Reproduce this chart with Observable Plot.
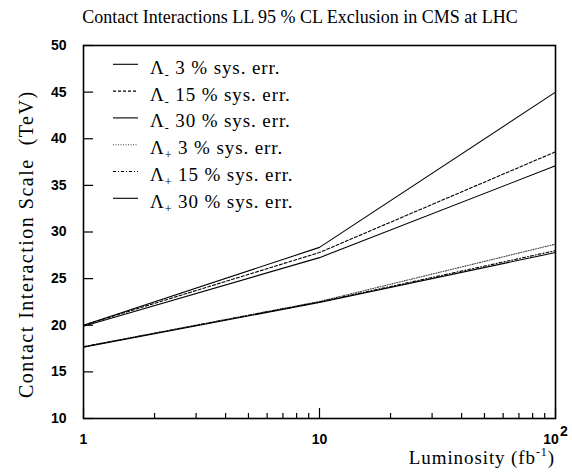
<!DOCTYPE html>
<html><head><meta charset="utf-8">
<script src="https://cdn.jsdelivr.net/npm/d3@7"></script>
<script src="https://cdn.jsdelivr.net/npm/@observablehq/plot@0.6"></script>
<style>body{margin:0;background:#fff}</style>
</head><body><div id="chart"></div>
<script>
// ---- data ----
const luminosity = [1, 10, 100];
const lamMinus3  = [20.0, 28.35, 45.0];
const lamMinus15 = [20.0, 27.8, 38.6];
const lamMinus30 = [19.9, 27.25, 37.1];
const lamPlus3   = [17.7, 22.55, 28.7];
const lamPlus15  = [17.7, 22.5, 28.0];
const lamPlus30  = [17.65, 22.45, 27.8];
const seriesValues = [lamMinus3, lamMinus15, lamMinus30, lamPlus3, lamPlus15, lamPlus30];
const legendSub  = ["-", "-", "-", "+", "+", "+"];
const legendRest = [" 3 % sys. err.", " 15 % sys. err.", " 30 % sys. err.", " 3 % sys. err.", " 15 % sys. err.", " 30 % sys. err."];
const xTicksMajor = [1, 10, 100];
const xTicksMinor = [2, 3, 4, 5, 6, 7, 8, 9, 20, 30, 40, 50, 60, 70, 80, 90];
const yTicks = [10, 15, 20, 25, 30, 35, 40, 45, 50];
const titleText = "Contact Interactions LL 95 % CL Exclusion in CMS at LHC";
const yTitleText = "Contact Interaction Scale  (TeV)";
const xTitleMain = "Luminosity (fb";
const xTitleSup = "-1";

// ---- styles ----
const dashes = [null, "3,2", null, "1,1.5", "3,2,1,2", null];
const strokes = ["#000", "#000", "#000", "#444", "#000", "#000"];

const table = [];
seriesValues.forEach((vals, s) => vals.forEach((v, i) => table.push({s, x: luminosity[i], y: v})));

const lineMarks = seriesValues.map((_, s) => Plot.line(table.filter(d => d.s === s), {
  x: "x", y: "y", stroke: strokes[s], strokeWidth: 1.1, strokeDasharray: dashes[s]
}));

const chart = Plot.plot({
  width: 572, height: 473,
  marginLeft: 83, marginRight: 17, marginTop: 45, marginBottom: 55,
  style: {fontFamily: "Liberation Sans", fontSize: "14px", fontWeight: "bold", background: "#fff", overflow: "visible"},
  x: {type: "log", domain: [1, 100]},
  y: {domain: [10, 50]},
  marks: [
    ...lineMarks,
    Plot.axisY({ticks: yTicks, tickSize: -10, tickFormat: () => "", label: null, strokeWidth: 1.2}),
    Plot.axisY({ticks: yTicks, tickSize: 0, tickPadding: 17, label: null}),
    Plot.axisX({ticks: xTicksMajor, tickSize: -10, tickFormat: () => "", label: null, strokeWidth: 1.2}),
    Plot.axisX({ticks: xTicksMinor, tickSize: -5, tickFormat: () => "", label: null, strokeWidth: 1.2}),
    Plot.axisX({ticks: xTicksMajor, tickSize: 0, tickPadding: 16, label: null, tickFormat: d => d === 100 ? "10" : String(d)}),
    Plot.frame({strokeWidth: 1.6})
  ]
});
document.getElementById("chart").appendChild(chart);

const svg = d3.select(chart);
// superscript for 10^2: rightmost "10" label
{
  const nodes = svg.selectAll('g[aria-label="x-axis tick label"] text').nodes().filter(n => n.textContent === "10");
  let best = null, bx = -1;
  nodes.forEach(n => { const b = n.getBoundingClientRect(); if (b.x > bx) { bx = b.x; best = n; } });
  if (best && nodes.length > 1) {
    const t = d3.select(best); const txt = t.text(); t.text(null);
    t.append("tspan").text(txt);
    t.append("tspan").attr("dy", "-0.6em").attr("dx", "1").text("2");
  }
}

const serif = "'Liberation Serif', 'Times New Roman', serif";
function serifText(sel, size, spacing) {
  return sel.style("font-family", serif).style("font-size", size + "px").style("font-weight", "normal")
    .style("letter-spacing", (spacing || 0) + "px");
}
// title
serifText(svg.append("text"), 18).attr("x", 300).attr("y", 23).attr("text-anchor", "middle").text(titleText);
// y title
serifText(svg.append("text"), 20, 1.5).attr("transform", "translate(33,398) rotate(-90)").attr("text-anchor", "start").text(yTitleText);
// x title
{
  const t = serifText(svg.append("text"), 19, 0.9).attr("x", 555).attr("y", 464).attr("text-anchor", "end");
  t.append("tspan").text(xTitleMain);
  t.append("tspan").style("font-size", "12px").attr("dy", -8).text(xTitleSup);
  t.append("tspan").attr("dy", 8).text(")");
}
// legend
const lg = svg.append("g");
seriesValues.forEach((_, i) => {
  const cy = 67.3 + 26.8 * i;
  lg.append("line").attr("x1", 113).attr("x2", 138).attr("y1", cy - 3).attr("y2", cy - 3)
    .attr("stroke", strokes[i]).attr("stroke-width", 1.1).attr("stroke-dasharray", dashes[i]);
  const t = serifText(lg.append("text"), 19, 0.9).attr("x", 150).attr("y", cy + 6.5).attr("text-anchor", "start");
  t.append("tspan").text("Λ");
  t.append("tspan").style("font-size", "12px").attr("dy", 5).text(legendSub[i]);
  t.append("tspan").attr("dy", -5).text(legendRest[i]);
});
</script>
</body></html>
